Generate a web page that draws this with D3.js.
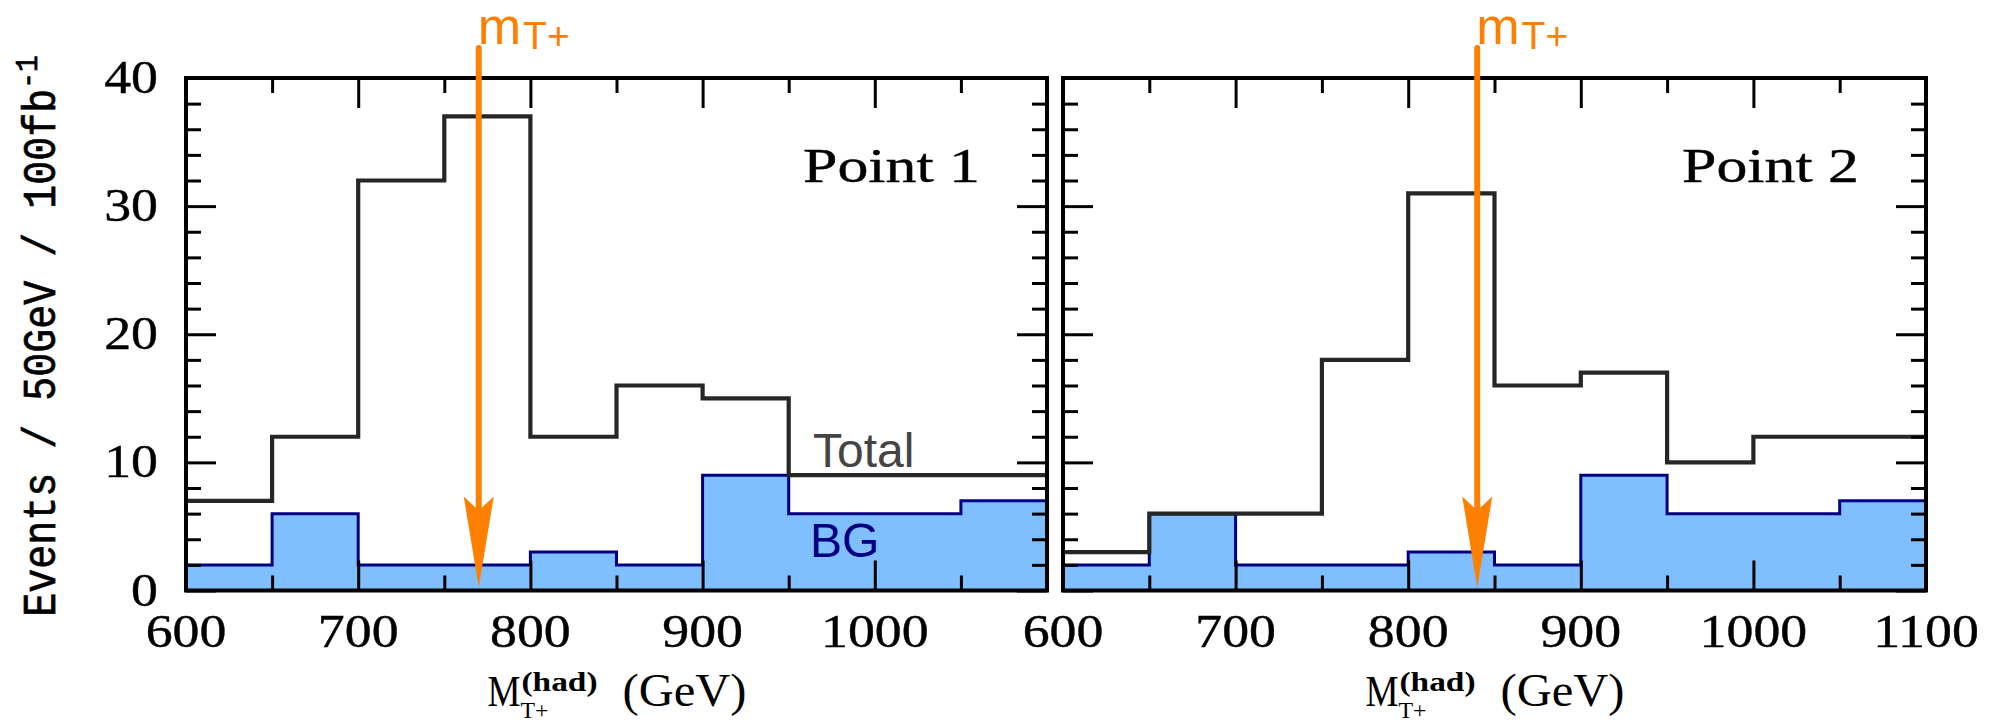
<!DOCTYPE html>
<html><head><meta charset="utf-8">
<script src="https://cdn.jsdelivr.net/npm/d3@7"></script>
<style>body{margin:0;background:#fff;overflow:hidden}</style>
</head><body>
<svg id="chart" width="2008" height="724" xmlns="http://www.w3.org/2000/svg"></svg>
<script>
// ---- data ----
const binStarts = [600, 650, 700, 750, 800, 850, 900, 950, 1000, 1050];
const binWidth = 50;
const total1 = [7, 12, 32, 37, 12, 16, 15, 9, 9, 9];
const bg1    = [2, 6, 2, 2, 3, 2, 9, 6, 6, 7];
const total2 = [3, 6, 6, 18, 31, 16, 17, 10, 12, 12];
const bg2    = [2, 6, 2, 2, 3, 2, 9, 6, 6, 7];
const massMarkers = [770, 840];
const panelNames = ["Point 1", "Point 2"];
const xTickLabels1 = [600, 700, 800, 900, 1000];
const xTickLabels2 = [600, 700, 800, 900, 1000, 1100];
const yTickLabels = [0, 10, 20, 30, 40];
const xDomain = [600, 1100];
const yDomain = [0, 40];

// ---- layout ----
const svg = d3.select("#chart");
const plotTop = 78, plotBottom = 590.5;
const panels = [
  {left: 186, right: 1047, total: total1, bg: bg1, mass: massMarkers[0], name: panelNames[0], xLabels: xTickLabels1, first: true},
  {left: 1063, right: 1926, total: total2, bg: bg2, mass: massMarkers[1], name: panelNames[1], xLabels: xTickLabels2, first: false}
];
const orange = "#ff7f00";
const serif = "'Liberation Serif', 'DejaVu Serif', serif";
const sans = "'Liberation Sans', Arial, sans-serif";
const mono = "'Liberation Mono', 'DejaVu Sans Mono', monospace";

function styleAxis(g, w) {
  g.select(".domain").remove();
  g.selectAll(".tick line").attr("stroke", "#000").attr("stroke-width", w);
  g.selectAll(".tick text").remove();
}

panels.forEach(p => {
  const sx = d3.scaleLinear().domain(xDomain).range([p.left, p.right]);
  const sy = d3.scaleLinear().domain(yDomain).range([plotBottom, plotTop]);
  const g = svg.append("g");

  const pts = v => binStarts.flatMap((b, i) => [[b, v[i]], [b + binWidth, v[i]]]);
  const area = d3.area().x(d => sx(d[0])).y0(sy(0)).y1(d => sy(d[1]));
  const line = d3.line().x(d => sx(d[0])).y(d => sy(d[1]));

  g.append("path").attr("d", area(pts(p.bg))).attr("fill", "#80bfff");
  g.append("path").attr("d", line(pts(p.bg))).attr("fill", "none")
    .attr("stroke", "#000080").attr("stroke-width", 3);
  g.append("path").attr("d", line(pts(p.total))).attr("fill", "none")
    .attr("stroke", "#262626").attr("stroke-width", 4.2).attr("stroke-linejoin", "miter");

  // ticks
  const xMajor = d3.range(600, 1101, 100), xMinor = d3.range(650, 1100, 100);
  const yMajor = d3.range(0, 41, 10), yMinor = d3.range(2, 40, 2).filter(v => v % 10 !== 0);
  const mk = (axis, tr, vals, size) => {
    const a = g.append("g").attr("transform", tr)
      .call(axis.tickValues(vals).tickSize(-size).tickFormat(""));
    styleAxis(a, 3);
  };
  mk(d3.axisBottom(sx), `translate(0,${plotBottom})`, xMajor, 30);
  mk(d3.axisBottom(sx), `translate(0,${plotBottom})`, xMinor, 15);
  mk(d3.axisTop(sx), `translate(0,${plotTop})`, xMajor, 30);
  mk(d3.axisTop(sx), `translate(0,${plotTop})`, xMinor, 15);
  mk(d3.axisLeft(sy), `translate(${p.left},0)`, yMajor, 30);
  mk(d3.axisLeft(sy), `translate(${p.left},0)`, yMinor, 15);
  mk(d3.axisRight(sy), `translate(${p.right},0)`, yMajor, 30);
  mk(d3.axisRight(sy), `translate(${p.right},0)`, yMinor, 15);

  // frame
  g.append("rect").attr("x", p.left).attr("y", plotTop)
    .attr("width", p.right - p.left).attr("height", plotBottom - plotTop)
    .attr("fill", "none").attr("stroke", "#000").attr("stroke-width", 4);

  // x tick labels
  p.xLabels.forEach(v => {
    g.append("text").attr("transform", `translate(${sx(v)},647) scale(1.17,1)`)
      .attr("text-anchor", "middle").attr("font-family", serif).attr("font-size", 46)
      .attr("fill", "#000").attr("stroke", "#000").attr("stroke-width", 0.4).text(v);
  });
  if (p.first) {
    yTickLabels.forEach(v => {
      g.append("text").attr("transform", `translate(158,${sy(v) + 15}) scale(1.17,1)`)
        .attr("text-anchor", "end").attr("font-family", serif).attr("font-size", 46)
        .attr("fill", "#000").attr("stroke", "#000").attr("stroke-width", 0.4).text(v);
    });
    g.append("text").attr("x", 813).attr("y", 467).attr("font-family", sans)
      .attr("font-size", 48).attr("fill", "#444").text("Total");
    g.append("text").attr("x", 810).attr("y", 557).attr("font-family", sans)
      .attr("font-size", 48).attr("fill", "#000080").text("BG");
  }

  // panel name
  g.append("text").attr("x", p.right - 244).attr("y", 182)
    .attr("font-family", serif).attr("font-size", 49).attr("fill", "#000")
    .attr("stroke", "#000").attr("stroke-width", 0.4)
    .attr("textLength", 177).attr("lengthAdjust", "spacingAndGlyphs").text(p.name);

  // x axis label
  const cx = (p.left + p.right) / 2;
  const xl = g.append("g").attr("transform", `translate(${cx - 129},706)`);
  xl.append("text").attr("x", 0).attr("y", 0).attr("font-family", serif)
    .attr("font-size", 45).attr("textLength", 33).attr("lengthAdjust", "spacingAndGlyphs").text("M");
  xl.append("text").attr("x", 34).attr("y", -15).attr("font-family", serif)
    .attr("font-weight", "bold").attr("font-size", 27)
    .attr("textLength", 76).attr("lengthAdjust", "spacingAndGlyphs").text("(had)");
  xl.append("text").attr("x", 33).attr("y", 12).attr("font-family", serif)
    .attr("font-size", 23).attr("textLength", 28).attr("lengthAdjust", "spacingAndGlyphs").text("T+");
  xl.append("text").attr("x", 135).attr("y", 0).attr("font-family", serif)
    .attr("font-size", 46).attr("textLength", 124).attr("lengthAdjust", "spacingAndGlyphs").text("(GeV)");

  // mass arrow
  const ax = sx(p.mass), tipY = sy(0) - 3;
  g.append("line").attr("x1", ax).attr("x2", ax).attr("y1", 48).attr("y2", tipY - 70)
    .attr("stroke", orange).attr("stroke-width", 6).attr("stroke-linecap", "round");
  g.append("path")
    .attr("d", `M${ax},${tipY} L${ax - 15},${tipY - 91} L${ax},${tipY - 77} L${ax + 15},${tipY - 91} Z`)
    .attr("fill", orange);
  const ml = g.append("text").attr("x", ax - 1).attr("y", 44).attr("font-family", sans)
    .attr("fill", orange);
  ml.append("tspan").attr("font-size", 52).text("m");
  ml.append("tspan").attr("font-size", 39).attr("dy", 5).attr("dx", 2).text("T+");
});

// y axis label
const yl = svg.append("text").attr("transform", "translate(55,336) rotate(-90) scale(1,1.15)")
  .attr("text-anchor", "middle").attr("font-family", mono).attr("font-size", 40)
  .attr("fill", "#000").attr("stroke", "#000").attr("stroke-width", 0.6);
yl.append("tspan").text("Events / 50GeV / 100fb");
yl.append("tspan").attr("font-size", 28).attr("dy", -16).text("-1");
</script>
</body></html>
